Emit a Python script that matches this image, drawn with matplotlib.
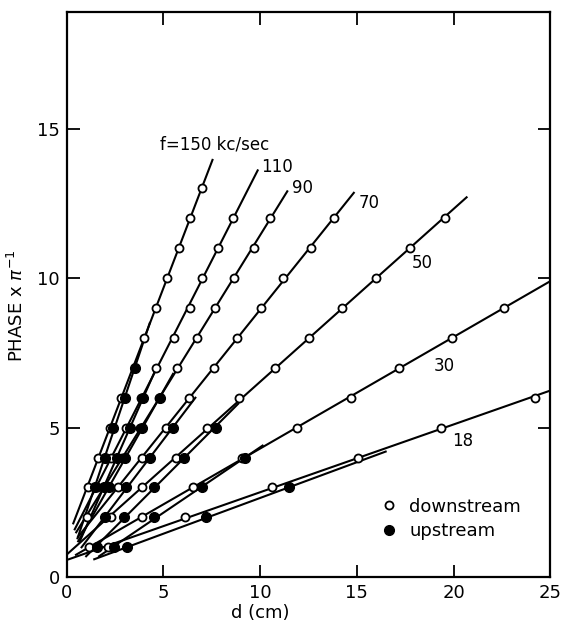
import numpy as np
import matplotlib
matplotlib.use("Agg")
import matplotlib.pyplot as plt
from matplotlib.lines import Line2D

plt.rcParams['font.family'] = ['DejaVu Sans']

# phase (units of pi) vs distance d (cm)
# downstream = open circles, upstream = filled circles
ph_150_dn = [3, 4, 5, 6, 8, 9, 10, 11, 12, 13]
d_150_dn = [1.08, 1.62, 2.22, 2.82, 3.99, 4.62, 5.19, 5.81, 6.37, 6.97]
ph_150_up = [3, 4, 5, 6, 7]
d_150_up = [1.45, 2.0, 2.39, 2.99, 3.55]

ph_110_dn = [3, 4, 5, 6, 7, 8, 9, 10, 11, 12]
d_110_dn = [1.55, 2.3, 3.04, 3.85, 4.62, 5.52, 6.36, 6.97, 7.83, 8.58]
ph_110_up = [3, 4, 5, 6]
d_110_up = [1.9, 2.6, 3.25, 3.96]

ph_90_dn = [2, 3, 4, 5, 6, 7, 8, 9, 10, 11, 12]
d_90_dn = [1.03, 1.95, 2.85, 3.8, 4.75, 5.69, 6.75, 7.66, 8.63, 9.66, 10.51]
ph_90_up = [3, 4, 5, 6]
d_90_up = [2.2, 3.0, 3.9, 4.82]

ph_70_dn = [3, 4, 5, 6, 7, 8, 9, 10, 11, 12]
d_70_dn = [2.65, 3.88, 5.13, 6.32, 7.6, 8.8, 10.05, 11.19, 12.65, 13.81]
ph_70_up = [2, 3, 4, 5]
d_70_up = [1.96, 3.08, 4.32, 5.47]

ph_50_dn = [2, 3, 4, 5, 6, 7, 8, 9, 10, 11, 12]
d_50_dn = [2.31, 3.88, 5.64, 7.26, 8.92, 10.77, 12.53, 14.22, 15.98, 17.77, 19.57]
ph_50_up = [1, 2, 3, 4, 5]
d_50_up = [1.54, 2.95, 4.49, 6.07, 7.69]

ph_30_dn = [1, 2, 3, 4, 5, 6, 7, 8, 9]
d_30_dn = [1.14, 3.88, 6.53, 9.05, 11.88, 14.67, 17.18, 19.91, 22.6]
ph_30_up = [1, 2, 3, 4]
d_30_up = [2.44, 4.49, 6.97, 9.23]

ph_18_dn = [1, 2, 3, 4, 5, 6]
d_18_dn = [2.13, 6.12, 10.6, 15.04, 19.35, 24.2]
ph_18_up = [1, 2, 3]
d_18_up = [3.13, 7.21, 11.5]

freqs = [150, 110, 90, 70, 50, 30, 18]
freq_labels = ["f=150 kc/sec", "110", "90", "70", "50", "30", "18"]
label_d = [4.8, 10.05, 11.65, 15.1, 17.85, 18.95, 19.9]
label_ph = [14.45, 13.7, 13.0, 12.5, 10.5, 7.05, 4.55]

# phase span covered by each fitted line
dn_span = [(1.8, 13.95), (1.6, 13.6), (1.5, 12.9), (1.35, 12.85),
           (0.8, 12.7), (0.75, 11.5), (0.6, 7.0)]
up_span = [(1.3, 8.5), (1.2, 7.0), (1.2, 6.8), (1.0, 6.0),
           (0.7, 5.8), (0.7, 4.4), (0.6, 4.2)]

series = [
    (ph_150_dn, d_150_dn, ph_150_up, d_150_up),
    (ph_110_dn, d_110_dn, ph_110_up, d_110_up),
    (ph_90_dn, d_90_dn, ph_90_up, d_90_up),
    (ph_70_dn, d_70_dn, ph_70_up, d_70_up),
    (ph_50_dn, d_50_dn, ph_50_up, d_50_up),
    (ph_30_dn, d_30_dn, ph_30_up, d_30_up),
    (ph_18_dn, d_18_dn, ph_18_up, d_18_up),
]

fig = plt.figure(figsize=(5.61, 6.23), dpi=100)
ax = fig.add_axes([0.119, 0.0735, 0.862, 0.9075])

for i, (phd, dd, phu, du) in enumerate(series):
    # straight-line fits, d as a function of phase
    a, b = np.polyfit(phd, dd, 1)
    ph = np.array(dn_span[i])
    ax.plot(a * ph + b, ph, color='black', lw=1.5, zorder=2)
    a, b = np.polyfit(phu, du, 1)
    ph = np.array(up_span[i])
    ax.plot(a * ph + b, ph, color='black', lw=1.5, zorder=2)

    ax.plot(dd, phd, 'o', ms=5.8, mfc='white', mec='black', mew=1.3, zorder=3)
    ax.plot(du, phu, 'o', ms=7, mfc='black', mec='black', zorder=4)

    ax.text(label_d[i], label_ph[i], freq_labels[i], fontsize=12,
            ha='left', va='center')

ax.set_xlim(0, 25)
ax.set_ylim(0, 18.9)
ax.set_xticks([0, 5, 10, 15, 20, 25])
ax.set_yticks([0, 5, 10, 15])
ax.tick_params(direction='in', top=True, right=True, length=9, width=1.3,
               labelsize=13, pad=5)
for s in ax.spines.values():
    s.set_linewidth(1.6)

ax.set_xlabel("d (cm)", fontsize=13)
ax.xaxis.set_label_coords(0.40, -0.047)
ax.set_ylabel(r"PHASE x $\pi^{-1}$", fontsize=13)
ax.yaxis.set_label_coords(-0.082, 0.48)

handles = [
    Line2D([], [], ls='none', marker='o', ms=5.8, mfc='white', mec='black', mew=1.3),
    Line2D([], [], ls='none', marker='o', ms=7, mfc='black', mec='black'),
]
ax.legend(handles, ["downstream", "upstream"], loc='lower left',
          bbox_to_anchor=(0.63, 0.05), frameon=False, fontsize=13,
          handlelength=1.0, handletextpad=0.6, labelspacing=0.35, borderpad=0)

fig.savefig("out.png", dpi=100)
